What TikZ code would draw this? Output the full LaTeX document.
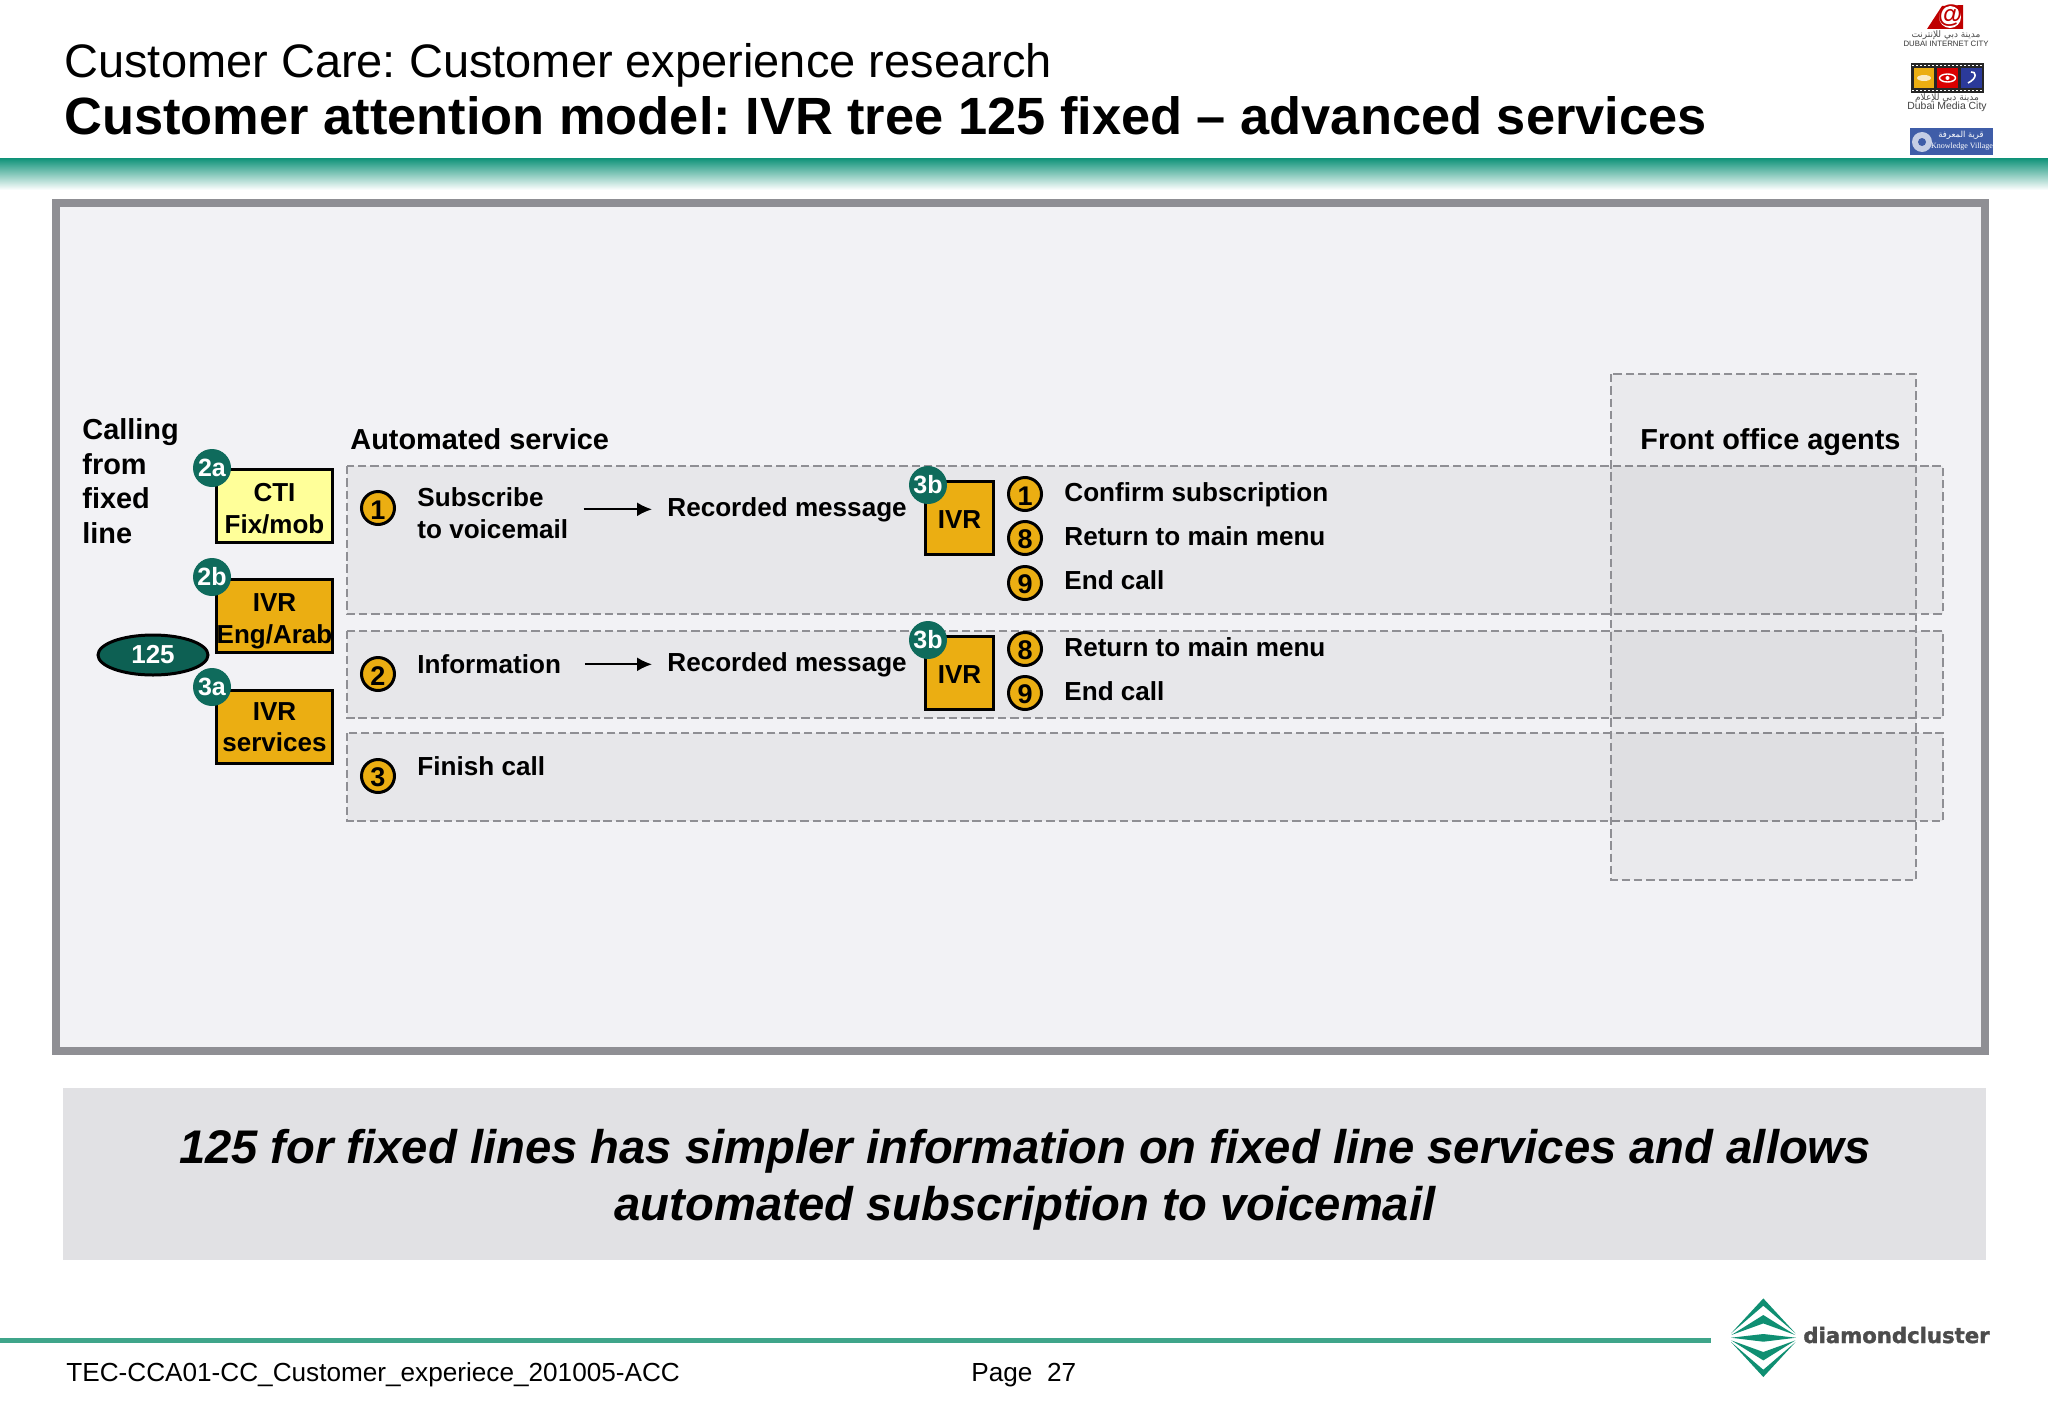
\documentclass[tikz,border=0pt]{standalone}
\usepackage{fontspec}
\usepackage{xcolor}
\usetikzlibrary{shapes.geometric}
\usetikzlibrary{arrows.meta}
\setmainfont{Liberation Sans}
\newfontfamily\arabicfont[Script=Arabic]{DejaVu Sans}
\newfontfamily\logofont[BoldFeatures={FakeBold=1.6}]{DejaVu Sans}
\newfontfamily\villagefont{Liberation Serif}
\TeXXeTstate=1
\definecolor{frame-grey}{HTML}{8F8F94}
\definecolor{panel-grey}{HTML}{F2F2F5}
\definecolor{note-grey}{HTML}{E1E1E4}
\definecolor{band-green}{HTML}{0E9278}
\definecolor{rule-green}{HTML}{3FA58A}
\definecolor{logo-green}{HTML}{0F8F72}
\definecolor{badge-green}{HTML}{0F6B5C}
\definecolor{ivr-orange}{HTML}{EBAE12}
\definecolor{cti-yellow}{HTML}{FFFF99}
\definecolor{media-blue}{HTML}{2B3A9A}
\definecolor{village-blue}{HTML}{3F5DA8}
\tikzset{
    body-text/.style = {anchor=base west, inner sep=0pt, align=left, font=\fontsize{13.05}{15.75}\selectfont\bfseries},
    head-text/.style = {anchor=base west, inner sep=0pt, align=left, font=\fontsize{14.45}{17.25}\selectfont\bfseries},
    ivr-box/.style = {draw=black, line width=1.5pt, rectangle, fill=ivr-orange, inner sep=0pt, minimum width=58pt, minimum height=36.5pt, align=center, text height=30pt, text depth=3pt, font=\fontsize{13}{15.75}\selectfont\bfseries},
    ivr-small/.style = {ivr-box, minimum width=34pt, text height=10.7pt, text depth=0pt},
    step-badge/.style = {circle, fill=badge-green, text=white, inner sep=0pt, minimum size=19pt, font=\fontsize{12.5}{14}\selectfont\bfseries},
    option-dot/.style = {circle, draw=black, line width=1.5pt, fill=ivr-orange, inner sep=0pt, minimum size=16.5pt, execute at begin node=\rule{0pt}{11pt}, font=\fontsize{13.5}{15}\selectfont\bfseries},
    dash-zone/.style = {draw=frame-grey, line width=1.4pt, dash pattern=on 4.2pt off 1.95pt, fill=black, fill opacity=.045},
    flow-arrow/.style = {draw=black, line width=1pt, -{Latex[length=7.5pt,width=7pt]}},
}
\begin{document}
\begin{tikzpicture}[x=0.5pt, y=-0.5pt]
\useasboundingbox (0,0) rectangle (2048,1418);
\fill[white] (0,0) rectangle (2048,1418);

% header
\node [anchor=base west, inner sep=0pt, font=\fontsize{23.5}{26}\selectfont\frenchspacing] (title) at (64,78) {Customer Care: Customer experience research};
\node [anchor=base west, inner sep=0pt, font=\fontsize{26.2}{28}\selectfont\bfseries\frenchspacing] (subtitle) at (64,134) {Customer attention model: IVR tree 125 fixed -- advanced services};
\shade[top color=band-green, bottom color=white] (0,158) rectangle (2048,190);

% top right logos
\fill[red!75!black] (1927,29) -- (1942,6) -- (1963,5) -- (1963,29) -- cycle;
\fill[white] (1950,17) circle (11);
\node [inner sep=0pt, text=red!75!black, font=\fontsize{12.5}{13}\selectfont\bfseries] (atsign) at (1950,16) {@};
\node [inner sep=0pt, font=\arabicfont\fontsize{4.5}{5}\selectfont, text=black!70] (dicarab) at (1946,35) {\beginR مدينة دبي للإنترنت\endR};
\node [inner sep=0pt, font=\fontsize{3.9}{4}\selectfont, text=black!80] (dicname) at (1946,43.5) {DUBAI INTERNET CITY};
\fill[black!85] (1911,63) rectangle (1984,93);
\draw[white, line width=.8pt, dash pattern=on 1pt off 1pt] (1912,65.5) -- (1983,65.5);
\draw[white, line width=.8pt, dash pattern=on 1pt off 1pt] (1912,90.5) -- (1983,90.5);
\fill[ivr-orange] (1914,68) rectangle (1934,88);
\fill[red!85!black] (1937,68) rectangle (1958,88);
\fill[media-blue] (1961,68) rectangle (1982,88);
\fill[white!75!ivr-orange] (1924,78) ellipse (7 and 3);
\draw[white, line width=.7pt] (1947.5,78) ellipse (8 and 4);
\fill[white] (1947.5,78) circle (2);
\draw[white, line width=.8pt] (1968,83) .. controls (1978,78) and (1976,71) .. (1971,72);
\node [inner sep=0pt, font=\arabicfont\fontsize{4.5}{5}\selectfont, text=black!70] (dmcarab) at (1947,98) {\beginR مدينة دبي للإعلام\endR};
\node [inner sep=0pt, font=\fontsize{5.2}{6}\selectfont, text=black!75] (dmcname) at (1947,107) {Dubai Media City};
\fill[village-blue] (1910,128) rectangle (1993,155);
\fill[white!70!village-blue] (1922,142) circle (10);
\fill[village-blue] (1922,142) circle (4);
\node [inner sep=0pt, text=white, font=\arabicfont\fontsize{4.2}{5}\selectfont] (kvarab) at (1961,135) {\beginR قرية المعرفة\endR};
\node [inner sep=0pt, text=white, font=\villagefont\fontsize{4}{5}\selectfont] (kvname) at (1962,147) {Knowledge Village};

% main panel
\draw[frame-grey, line width=4pt, fill=panel-grey] (56,203) rectangle (1985,1051);
\path[dash-zone] (347,466) rectangle (1943,614);
\path[dash-zone] (347,631) rectangle (1943,718);
\path[dash-zone] (347,733) rectangle (1943,821);
\path[dash-zone, fill opacity=.03] (1611,374) rectangle (1916,880);

\node [head-text] (calling) at (82,543) {Calling\\from\\fixed\\line};
\node [head-text] (automated) at (350,449) {Automated service};
\node [head-text] (front) at (1640,449) {Front office agents};

% entry boxes
\node [ellipse, draw=black, line width=1.5pt, fill=badge-green!90!black, text=white, inner sep=0pt, minimum width=55pt, minimum height=20pt, font=\fontsize{13}{15}\selectfont\bfseries] (entry) at (153,655) {125};
\node [ivr-box, fill=cti-yellow] (cti) at (274.5,506) {CTI\\Fix/mob};
\node [ivr-box] (ivrlang) at (274.5,616) {IVR\\Eng/Arab};
\node [ivr-box, text height=28pt] (ivrserv) at (274.5,726.5) {IVR\\services};
\node [step-badge] (badge2a) at (212,468) {2a};
\node [step-badge] (badge2b) at (212,577) {2b};
\node [step-badge] (badge3a) at (212,687) {3a};

% first row
\node [option-dot] (dotsub) at (378,508) {1};
\node [body-text] (subscribe) at (417,538) {Subscribe\\to voicemail};
\node [body-text] (recordeda) at (667,516) {Recorded message};
\node [ivr-small] (ivra) at (959.5,518) {IVR};
\node [step-badge] (badge3ba) at (928,485) {3b};
\node [option-dot] (dotconfirm) at (1025,494) {1};
\node [option-dot] (dotmenua) at (1025,538) {8};
\node [option-dot] (dotenda) at (1025,583) {9};
\node [body-text] (confirm) at (1064,501) {Confirm subscription};
\node [body-text] (menua) at (1064,545) {Return to main menu};
\node [body-text] (enda) at (1064,589) {End call};

% second row
\node [option-dot] (dotinfo) at (378,674) {2};
\node [body-text] (information) at (417,673) {Information};
\node [body-text] (recordedb) at (667,671) {Recorded message};
\node [ivr-small] (ivrb) at (959.5,673) {IVR};
\node [step-badge] (badge3bb) at (928,640) {3b};
\node [option-dot] (dotmenub) at (1025,649) {8};
\node [option-dot] (dotendb) at (1025,693) {9};
\node [body-text] (menub) at (1064,656) {Return to main menu};
\node [body-text] (endb) at (1064,700) {End call};

% third row
\node [option-dot] (dotfinish) at (378,776) {3};
\node [body-text] (finish) at (417,775) {Finish call};

% arrows
\path[flow-arrow, yshift=-.7pt] ([xshift=7.5pt]subscribe.east |- recordeda.west) -- ([xshift=-7.5pt]recordeda.west);
\path[flow-arrow, yshift=-.7pt] ([xshift=11.75pt]information.east |- recordedb.west) -- ([xshift=-7.5pt]recordedb.west);

% bottom note
\fill[note-grey] (63,1088) rectangle (1986,1260);
\node [align=center, inner sep=0pt, font=\fontsize{23.6}{28.5}\selectfont\bfseries\itshape] (note) at (1025,1180) {125 for fixed lines has simpler information on fixed line services and allows\\automated subscription to voicemail};

% footer
\fill[rule-green] (0,1338) rectangle (1711,1343);
\node [anchor=base west, inner sep=0pt, font=\fontsize{13.08}{15}\selectfont] (docref) at (66,1381) {TEC-CCA01-CC\_Customer\_experiece\_201005-ACC};
\node [anchor=base west, inner sep=0pt, font=\fontsize{13.08}{15}\selectfont] (pagenum) at (971,1381) {Page\ \ 27};

% diamond logo
\foreach \s in {1,-1} {
    \begin{scope}[shift={(1763.3,1337.7)}, yscale=\s]
    \fill[logo-green] (0,-39.3) -- (32.3,-4.3) -- (0,-32) -- (-32.3,-4.3) -- cycle;
    \fill[logo-green] (0,-22.7) -- (32,-2.7) -- (0,-14.3) -- (-32,-2.7) -- cycle;
    \end{scope}
}
\fill[logo-green] (1731,1337.7) -- (1763.3,1334) -- (1796,1337.7) -- (1763.3,1341.7) -- cycle;
\node [anchor=base west, inner sep=0pt, text=black!70, font=\logofont\fontsize{10.6}{12}\selectfont\bfseries] (logoname) at (1803,1343) {diamondcluster};
\end{tikzpicture}
\end{document}
